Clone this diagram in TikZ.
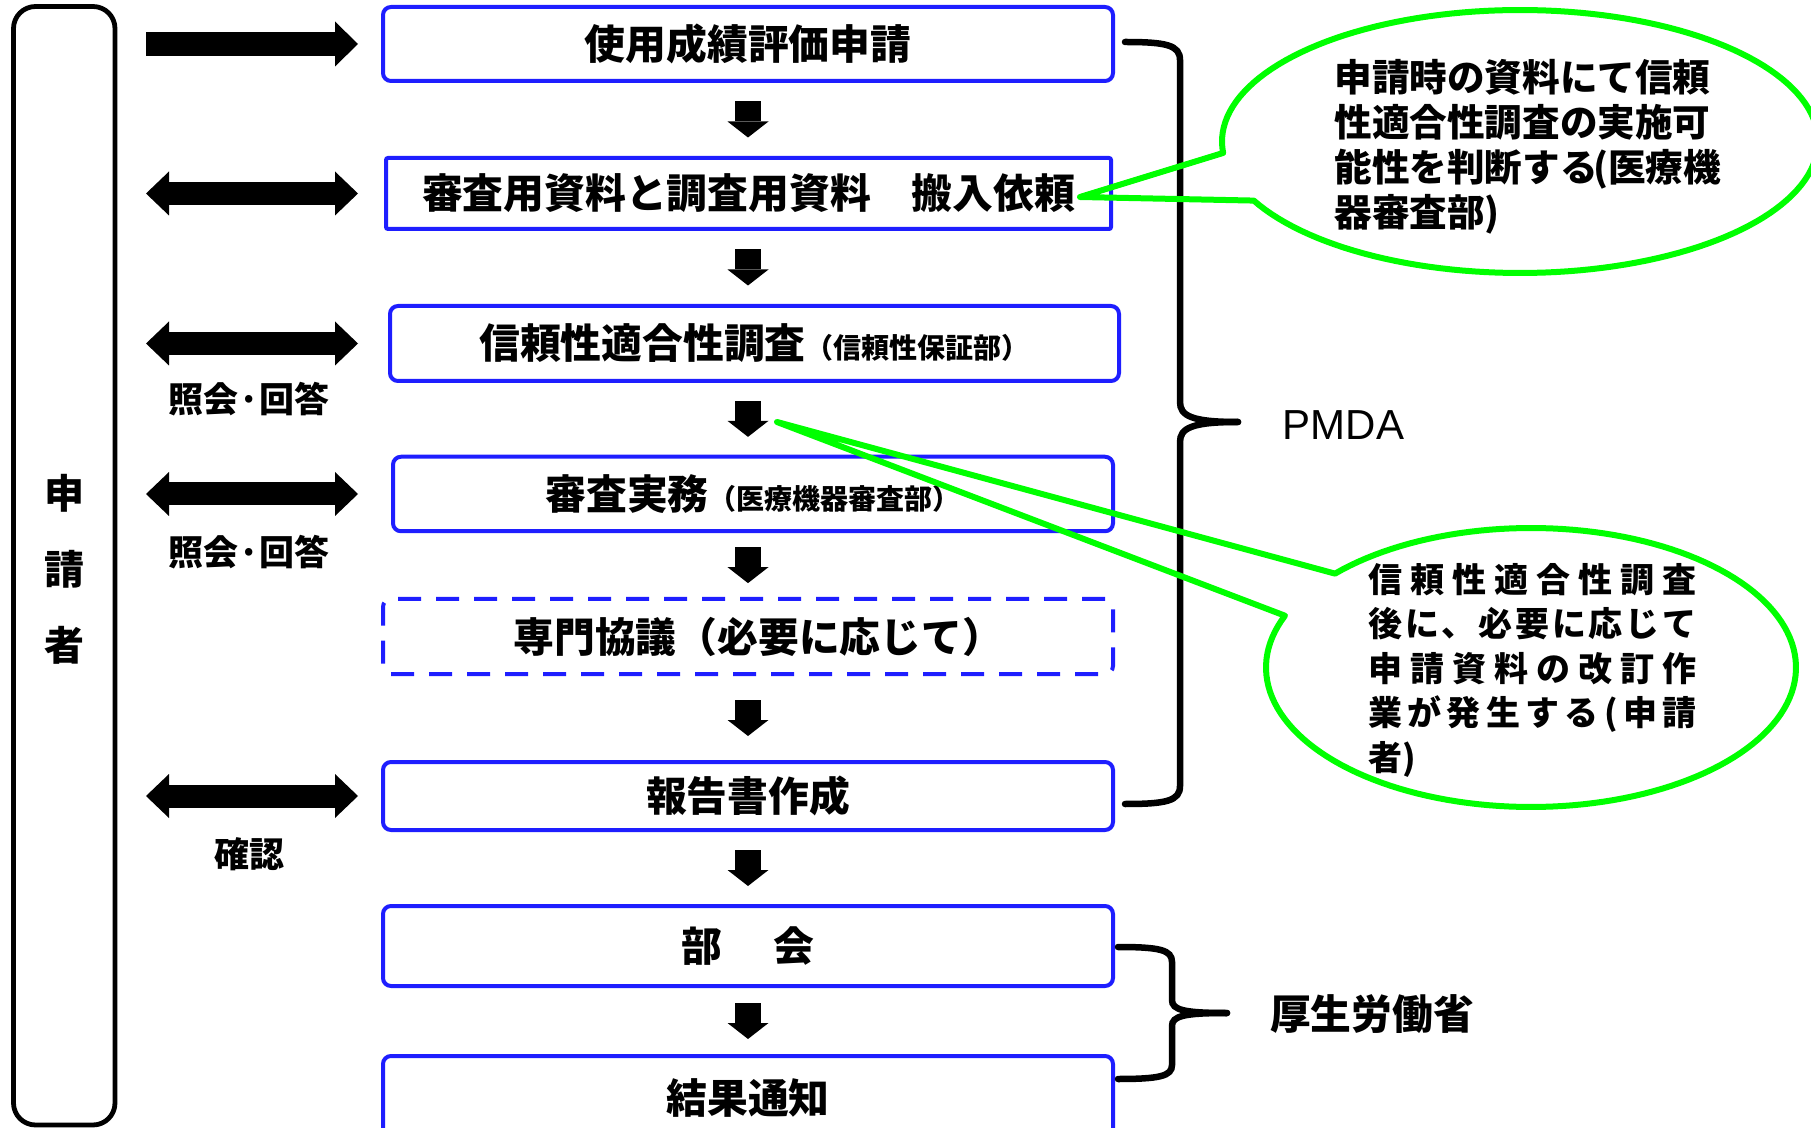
\documentclass[tikz,border=0pt]{standalone}
\usepackage{fontspec}
\setmainfont{Noto Sans CJK JP}
\newfontfamily\latinfont{Liberation Sans}
\usetikzlibrary{arrows.meta}
\usetikzlibrary{calc}
\definecolor{flowblue}{RGB}{30,30,255}
\definecolor{calloutgreen}{RGB}{0,255,0}
\newcommand\boxfont{\fontsize{20.4}{24}\selectfont\bfseries}
\newcommand\subfont{\fontsize{14}{17}\selectfont\bfseries}
\newcommand\spreadchars[1]{\spreadloop#1\relax}
\def\spreadloop#1{\ifx\relax#1\else#1\hfill\expandafter\spreadloop\fi}
\newcommand\spreadline[1]{\makebox[164pt][s]{\spreadchars{#1}\unskip}}
\tikzset{
  stepbox/.style={draw=flowblue, line width=2pt, rounded corners=4pt, minimum width=365pt, inner sep=0pt, font=\boxfont},
  downarrow/.style={line width=13pt, -{Triangle[width=20.5pt, length=8pt, line width=0pt]}},
  sidearrow/.style={line width=12pt, -{Triangle[width=22.5pt, length=11.5pt, line width=0pt]}},
  sidearrows/.style={line width=11.5pt, {Triangle[width=22pt, length=11.5pt, line width=0pt]}-{Triangle[width=22pt, length=11.5pt, line width=0pt]}},
  sidelabel/.style={inner sep=0pt, font=\fontsize{17.5}{20}\selectfont\bfseries},
  bracket/.style={line width=3.25pt, line cap=round},
  callout/.style={draw=calloutgreen, line width=3pt, line join=round},
}
\begin{document}
\begin{tikzpicture}[x=0.5pt,y=0.5pt,yscale=-1,xscale=1]
\useasboundingbox (0,0) rectangle (1811,1128);
%Shape: Rounded Rect
\node[draw, line width=2.4pt, rounded corners=11pt, minimum width=50.75pt, minimum height=559.25pt] (applicant) at (64.25,565.75) {};
% Text Node
\node[align=center, inner sep=0pt, font=\fontsize{20}{38}\selectfont\bfseries] (applicantlabel) at (64,569) {申\\請\\者};
%Flow boxes
\node[stepbox, minimum height=37pt] (apply) at (748,44) {使用成績評価申請};
\node[stepbox, rounded corners=1pt, minimum width=362.5pt, minimum height=35.5pt] (submit) at (748.5,193.5) {審査用資料と調査用資料　搬入依頼};
\node[stepbox, minimum width=364.5pt, minimum height=37.5pt] (audit) at (754.5,343.5) {信頼性適合性調査{\subfont （信頼性保証部）}};
\node[stepbox, minimum width=360pt, minimum height=37.25pt] (review) at (753,494) {審査実務{\subfont （医療機器審査部）}};
\node[stepbox, dash pattern=on 11.5pt off 7.5pt, minimum height=37.5pt] (expert) at (748,636.5) {\hspace*{0.5em}専門協議（必要に応じて）};
\node[stepbox, minimum height=34pt] (report) at (748,796) {報告書作成};
\node[stepbox, minimum height=40pt] (council) at (748,946) {部\hspace{1.25em}会};
\node[stepbox, minimum height=42pt] (notice) at (748,1098) {結果通知};
%Down arrows
\foreach \a/\b in {apply/submit, submit/audit, audit/review, review/expert, expert/report, report/council, council/notice}
  \draw[downarrow] ($(apply.south |- \a.south)!.5!(apply.south |- \b.north)+(0,-18)$) -- ++(0,36);
%Straight Lines
\coordinate (lx) at (146,0);
\coordinate (rx) at (358,0);
\draw[sidearrow] (lx |- apply.west) -- (rx |- apply.west);
\foreach \b in {submit, audit, review, report}
  \draw[sidearrows] (lx |- \b.west) -- (rx |- \b.west);
% Text Node
\node[sidelabel] (query1) at (249,399) {照会·回答};
\node[sidelabel] (query2) at (249,552) {照会·回答};
\node[sidelabel] (confirm) at (249,854) {確認};
%Braces
\draw[bracket] (1125,42) .. controls (1166,42) and (1180,45) .. (1180,60) -- (1180,402) .. controls (1180,416) and (1192,422) .. (1238,422);
\draw[bracket] (1238,422) .. controls (1192,422) and (1180,428) .. (1180,442) -- (1180,786) .. controls (1180,801) and (1166,804) .. (1125,804);
\draw[bracket] (1118,947) .. controls (1160,947) and (1172,950) .. (1172,962) -- (1172,1000) .. controls (1172,1010) and (1184,1013) .. (1227,1013);
\draw[bracket] (1227,1013) .. controls (1184,1013) and (1172,1016) .. (1172,1026) -- (1172,1065) .. controls (1172,1076) and (1160,1079) .. (1118,1079);
% Text Node
\node[inner sep=0pt, font=\latinfont\fontsize{21}{24}\selectfont] (pmda) at (1343.5,425) {PMDA};
\node[inner sep=0pt, font=\boxfont] (mhlw) at (1372,1014) {厚生労働省};
%Callouts
\coordinate (tipA) at (1080,197);
\draw[callout] (tipA) -- plot[domain=175:513.3, samples=150] ({1520+298*cos(\x)},{141.5+131.5*sin(\x)}) -- cycle;
\coordinate (tipB) at (777,422);
\draw[callout] (tipB) -- plot[domain=222.3:561.8, samples=150] ({1531+265*cos(\x)},{667.5+139.5*sin(\x)}) -- cycle;
% Text Node
\node[anchor=north west, align=left, inner sep=0pt, font=\fontsize{18.8}{22.5}\selectfont\bfseries] (note1) at (1334,59) {申請時の資料にて信頼\\性適合性調査の実施可\\能性を判断する\kern-0.12em(医療機\\器審査部)};
\node[anchor=north west, align=left, inner sep=0pt, font=\fontsize{17}{22.2}\selectfont\bfseries] (note2) at (1368,563) {\spreadline{信頼性適合性調査}\\\spreadline{後に、必要に応じて}\\\spreadline{申請資料の改訂作}\\\spreadline{業が発生する(申請}\\者)};
\end{tikzpicture}
\end{document}
